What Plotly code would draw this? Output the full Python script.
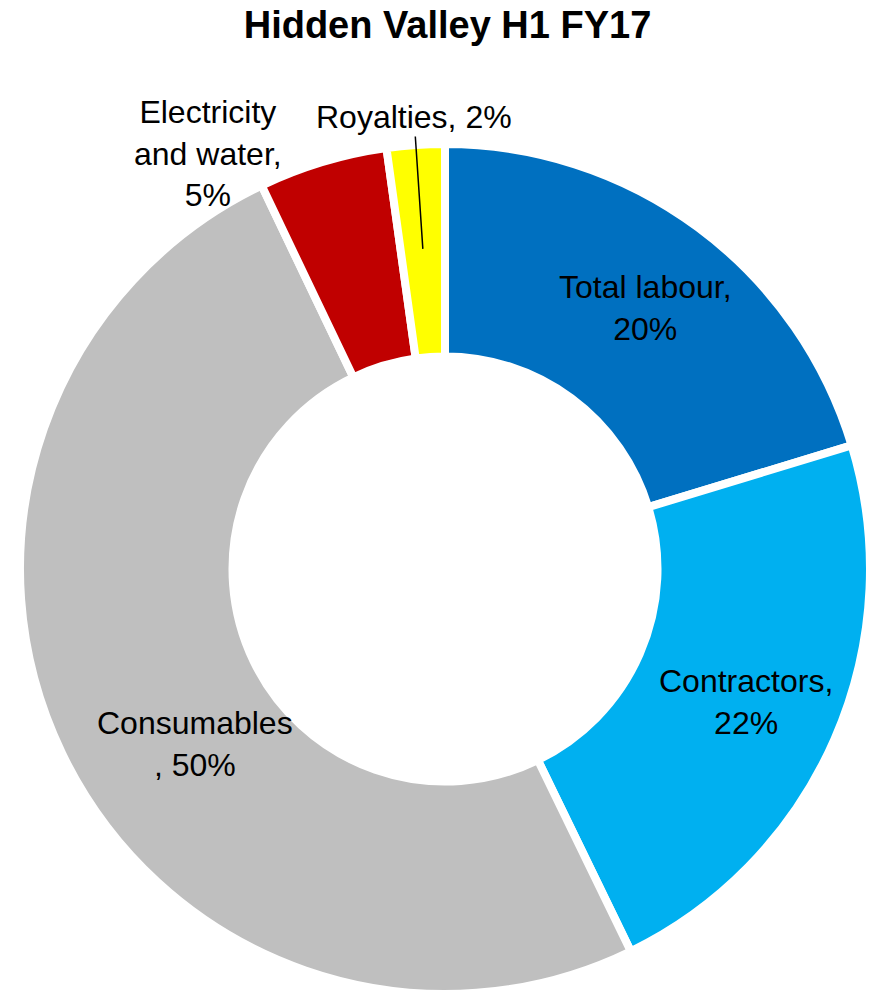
import math
import plotly.graph_objects as go

categories = ["Total labour", "Contractors", "Consumables", "Electricity and water", "Royalties"]
values = [20.3, 22.5, 50.1, 4.9, 2.2]
label_text = ["Total labour,<br>20%", "Contractors,<br>22%", "Consumables<br>, 50%",
              "Electricity<br>and water,<br>5%", "Royalties, 2%"]
colors = ["#0070C0", "#00B0F0", "#BFBFBF", "#C00000", "#FFFF00"]

# label block centres (pixels)
label_pos = [(645, 308), (746, 702), (195, 744), (208, 153), (414, 117)]

W, H = 881, 995
cx, cy, R = 445, 569, 425
FONT = "Liberation Sans, Arial"

fig = go.Figure(go.Pie(
    labels=categories,
    values=values,
    textinfo="none",
    marker=dict(colors=colors, line=dict(color="white", width=8)),
    hole=0.50,
    sort=False,
    direction="clockwise",
    rotation=0,
    showlegend=False,
    hoverinfo="label+percent",
    domain=dict(x=[(cx - R) / W, (cx + R) / W], y=[1 - (cy + R) / H, 1 - (cy - R) / H]),
))

# leader-line tip for Royalties, computed from data
total = sum(values)
cum_mid = (sum(values[:4]) + values[4] / 2) / total
ang = 2 * math.pi * cum_mid
rt = 0.755 * R
tx = cx + rt * math.sin(ang)
ty = cy - rt * math.cos(ang)

for i, (txt, (px, py)) in enumerate(zip(label_text, label_pos)):
    if i == 4:
        fig.add_annotation(
            x=tx / W, y=1 - ty / H, xref="paper", yref="paper",
            text=txt, showarrow=True, arrowhead=0, arrowwidth=1.5, arrowcolor="black",
            ax=px - tx, ay=py - ty, axref="pixel", ayref="pixel",
            font=dict(family=FONT, size=32, color="black"),
        )
    else:
        fig.add_annotation(
            x=px / W, y=1 - py / H, xref="paper", yref="paper",
            xanchor="center", yanchor="middle", align="center",
            text=txt, showarrow=False,
            font=dict(family=FONT, size=32, color="black"),
        )

fig.update_layout(
    width=W, height=H,
    margin=dict(l=0, r=0, t=0, b=0),
    paper_bgcolor="white",
    title=dict(text="<b>Hidden Valley H1 FY17</b>", x=447.5 / W, xanchor="center", y=1 - 25 / H, yanchor="middle",
               font=dict(family=FONT, size=38, color="black")),
)

fig.write_html("out.html")
